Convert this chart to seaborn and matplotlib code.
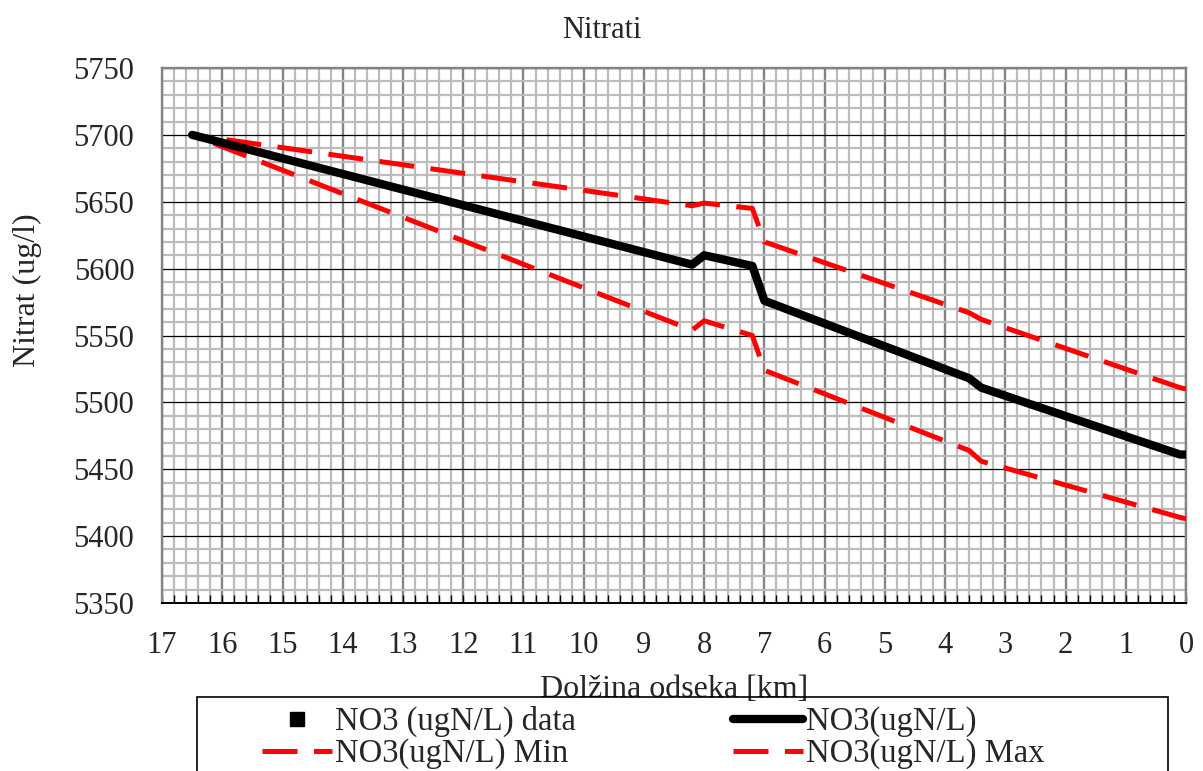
import numpy as np
import pandas as pd
import matplotlib
matplotlib.use("Agg")
import matplotlib.pyplot as plt
import seaborn as sns
from matplotlib.lines import Line2D
from matplotlib.patches import Rectangle

# values
km = [16.5, 8.2, 8.0, 7.2, 7.0, 3.6, 3.4, 0.1, 0.0]
no3 = [5700, 5603, 5610, 5602, 5576, 5518, 5511, 5461, 5461]
no3_min = [5700, 5554, 5561, 5550, 5524, 5464, 5456, 5414, 5413]
no3_max = [5700, 5647, 5649, 5645, 5620, 5567, 5562, 5511, 5510]
data_km = []
data_no3 = []

x_ticks = list(range(0, 18))
y_ticks = list(range(5350, 5751, 50))

df = pd.DataFrame({"km": km, "no3": no3, "min": no3_min, "max": no3_max})

sns.set_style("white")
plt.rcParams["font.family"] = ["Liberation Serif", "DejaVu Serif"]

fig = plt.figure(figsize=(12.03, 7.71), dpi=100)
ax = fig.add_axes([0.1347, 0.2179, 0.8512, 0.6939])

# gridlines
ax.set_xticks(x_ticks)
ax.set_xticks(np.arange(0, 17.01, 0.2), minor=True)
ax.set_yticks(y_ticks)
ax.set_yticks(np.arange(5350, 5751, 10), minor=True)
ax.grid(which="minor", color="#bcbcbc", linewidth=1.6, zorder=0)
ax.grid(which="major", axis="x", color="#848484", linewidth=1.7, zorder=0)
ax.grid(which="major", axis="y", color="black", linewidth=0.9, zorder=0)
ax.set_axisbelow(True)

red_lw = 3.6
dash = (7.0, 3.3)
sns.lineplot(data=df, x="km", y="min", ax=ax, color="#ff0000", linewidth=red_lw,
             linestyle=(0, dash), zorder=3)
sns.lineplot(data=df, x="km", y="max", ax=ax, color="#ff0000", linewidth=red_lw,
             linestyle=(0, dash), zorder=3)
sns.lineplot(data=df, x="km", y="no3", ax=ax, color="black", linewidth=6,
             solid_joinstyle="round", solid_capstyle="round", zorder=4)
ax.scatter(data_km, data_no3, marker="s", color="black", s=80, zorder=5)

ax.set_xlim(17, 0)
ax.set_ylim(5350, 5750)

ax.set_xticklabels([str(t) for t in x_ticks])
ax.tick_params(axis="x", which="both", direction="in", bottom=True, length=6,
               width=1, color="black", labelsize=22, pad=20)
ax.tick_params(axis="y", which="both", length=0, labelsize=22, pad=20)

for s in ["top", "left", "right"]:
    ax.spines[s].set_color("#848484")
    ax.spines[s].set_linewidth(1.7)
ax.spines["bottom"].set_color("black")
ax.spines["bottom"].set_linewidth(1.4)

ax.set_xlabel("Dolžina odseka [km]", fontsize=23, labelpad=11)
ax.set_ylabel("Nitrat (ug/l)", fontsize=23)
ax.yaxis.set_label_coords(-0.117, 0.585)
fig.text(0.5, 0.960, "Nitrati", ha="center", va="center", fontsize=22)

# legend
handles = [
    Line2D([], [], marker="s", color="black", linestyle="none", markersize=10),
    Line2D([], [], color="black", linewidth=6),
    Line2D([], [], color="#ff0000", linewidth=red_lw, linestyle=(0, dash)),
    Line2D([], [], color="#ff0000", linewidth=red_lw, linestyle=(0, dash)),
]
labels = ["NO3 (ugN/L) data", "NO3(ugN/L)", "NO3(ugN/L) Min", "NO3(ugN/L) Max"]
# column-wise fill: col1 = data, Min ; col2 = line, Max
order = [0, 2, 1, 3]
fig.legend([handles[i] for i in order], [labels[i] for i in order],
           loc="upper left", bbox_to_anchor=(0.2178, 0.0843), ncol=2,
           frameon=False, fontsize=23.5, handlelength=2.15, handletextpad=0.1,
           columnspacing=4.8, labelspacing=0.035, borderpad=0, borderaxespad=0)
fig.patches.append(Rectangle((0.1638, -0.05), 0.807, 0.146, transform=fig.transFigure,
                             fill=False, edgecolor="black", linewidth=1.2))

fig.savefig("out.png", dpi=100)
